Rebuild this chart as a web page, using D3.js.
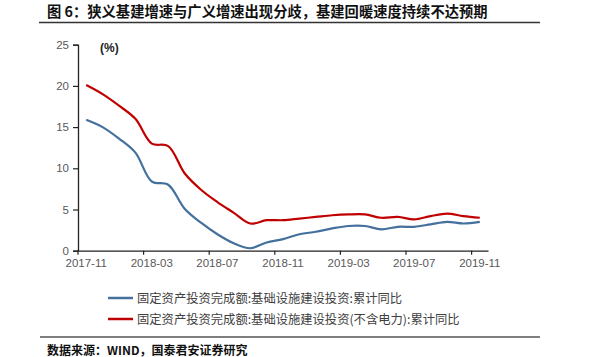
<!DOCTYPE html>
<html><head><meta charset="utf-8">
<script src="https://cdn.jsdelivr.net/npm/d3@7/dist/d3.min.js"></script>
<style>
html,body{margin:0;padding:0;background:#fff;}
svg{display:block;}
</style>
</head><body>
<svg id="c" width="600" height="357"></svg>
<script>
const months = ["2017-11","2017-12","2018-01","2018-02","2018-03","2018-04","2018-05","2018-06","2018-07","2018-08","2018-09","2018-10","2018-11","2018-12","2019-01","2019-02","2019-03","2019-04","2019-05","2019-06","2019-07","2019-08","2019-09","2019-10","2019-11"];
const tickMonths = ["2017-11","2018-03","2018-07","2018-11","2019-03","2019-07","2019-11"];
const yTicks = [0,5,10,15,20,25];
const seriesNames = ["固定资产投资完成额:基础设施建设投资:累计同比","固定资产投资完成额:基础设施建设投资(不含电力):累计同比"];
const blueValues = [15.9,15.0,13.6,11.9,8.4,8.0,5.1,3.4,2.0,0.9,0.3,1.0,1.4,2.0,2.3,2.7,3.0,3.0,2.6,2.9,2.9,3.2,3.5,3.3,3.5];
const redValues  = [20.1,19.0,17.6,16.0,13.0,12.7,9.4,7.4,5.9,4.6,3.3,3.7,3.7,3.9,4.1,4.3,4.4,4.4,4.0,4.1,3.8,4.2,4.5,4.2,4.0];
const colors = ["#44709D","#C00000"];
const title = "图 6：狭义基建增速与广义增速出现分歧，基建回暖速度持续不达预期";
const source = "数据来源：WIND，国泰君安证券研究";

const svg = d3.select("#c");
const cjk = "'Noto Sans CJK SC','Noto Sans',sans-serif";

// title
svg.append("text").attr("x",47).attr("y",17).attr("font-family",cjk).attr("font-weight","bold")
  .attr("font-size","14.3px").attr("fill","#111").text(title);
svg.append("line").attr("x1",39).attr("x2",540).attr("y1",22.5).attr("y2",22.5)
  .attr("stroke","#333").attr("stroke-width",1.3);

const x = d3.scaleBand().domain(months).range([78,488]).paddingInner(0).paddingOuter(0);
const y = d3.scaleLinear().domain([0,25]).range([250.7,44.7]);

// y axis
const ya = svg.append("g").attr("transform","translate(78,0)")
  .call(d3.axisLeft(y).tickValues(yTicks).tickSize(5).tickPadding(4));
ya.select(".domain").attr("stroke","#222").attr("stroke-width",1.3);
ya.selectAll(".tick line").attr("stroke","#222").attr("stroke-width",1.2);
ya.selectAll(".tick text").attr("font-family","'Liberation Sans',Arial,sans-serif").attr("font-size","11.5px").attr("fill","#595959");

// x axis
const xa = svg.append("g").attr("transform","translate(0,250.7)")
  .call(d3.axisBottom(x).tickValues(tickMonths).tickSize(4).tickPadding(4).tickSizeOuter(0));
xa.select(".domain").attr("stroke","#222").attr("stroke-width",1.3);
xa.selectAll(".tick line").attr("transform",`translate(${-x.bandwidth()/2},0)`).attr("stroke","#222").attr("stroke-width",1.2);
xa.selectAll(".tick text").attr("font-family","'Liberation Sans',Arial,sans-serif").attr("font-size","11.5px").attr("fill","#595959");

// unit
svg.append("text").attr("x",100).attr("y",52).attr("font-family","'Liberation Sans',Arial,sans-serif")
  .attr("font-weight","bold").attr("font-size","12px").attr("fill","#222").text("(%)");

// lines
const line = d3.line().x((d,i)=>x(months[i])+x.bandwidth()/2).y(d=>y(d)).curve(d3.curveCatmullRom.alpha(0.5));
[blueValues, redValues].forEach((vals,k)=>{
  svg.append("path").datum(vals).attr("d",line).attr("fill","none")
    .attr("stroke",colors[k]).attr("stroke-width",2.2).attr("stroke-linejoin","round");
});

// legend
const ly = [298,319];
seriesNames.forEach((n,k)=>{
  svg.append("line").attr("x1",108).attr("x2",133).attr("y1",ly[k]).attr("y2",ly[k])
    .attr("stroke",colors[k]).attr("stroke-width",2.5);
  svg.append("text").attr("x",137).attr("y",ly[k]+4.5).attr("font-family",cjk)
    .attr("font-size","12.3px").attr("fill","#404040").text(n);
});

svg.append("line").attr("x1",40).attr("x2",540).attr("y1",337).attr("y2",337)
  .attr("stroke","#555").attr("stroke-width",1.3);
svg.append("text").attr("x",47).attr("y",354.5).attr("font-family",cjk).attr("font-weight","bold")
  .attr("font-size","12px").attr("fill","#111").text(source);
</script>
</body></html>
